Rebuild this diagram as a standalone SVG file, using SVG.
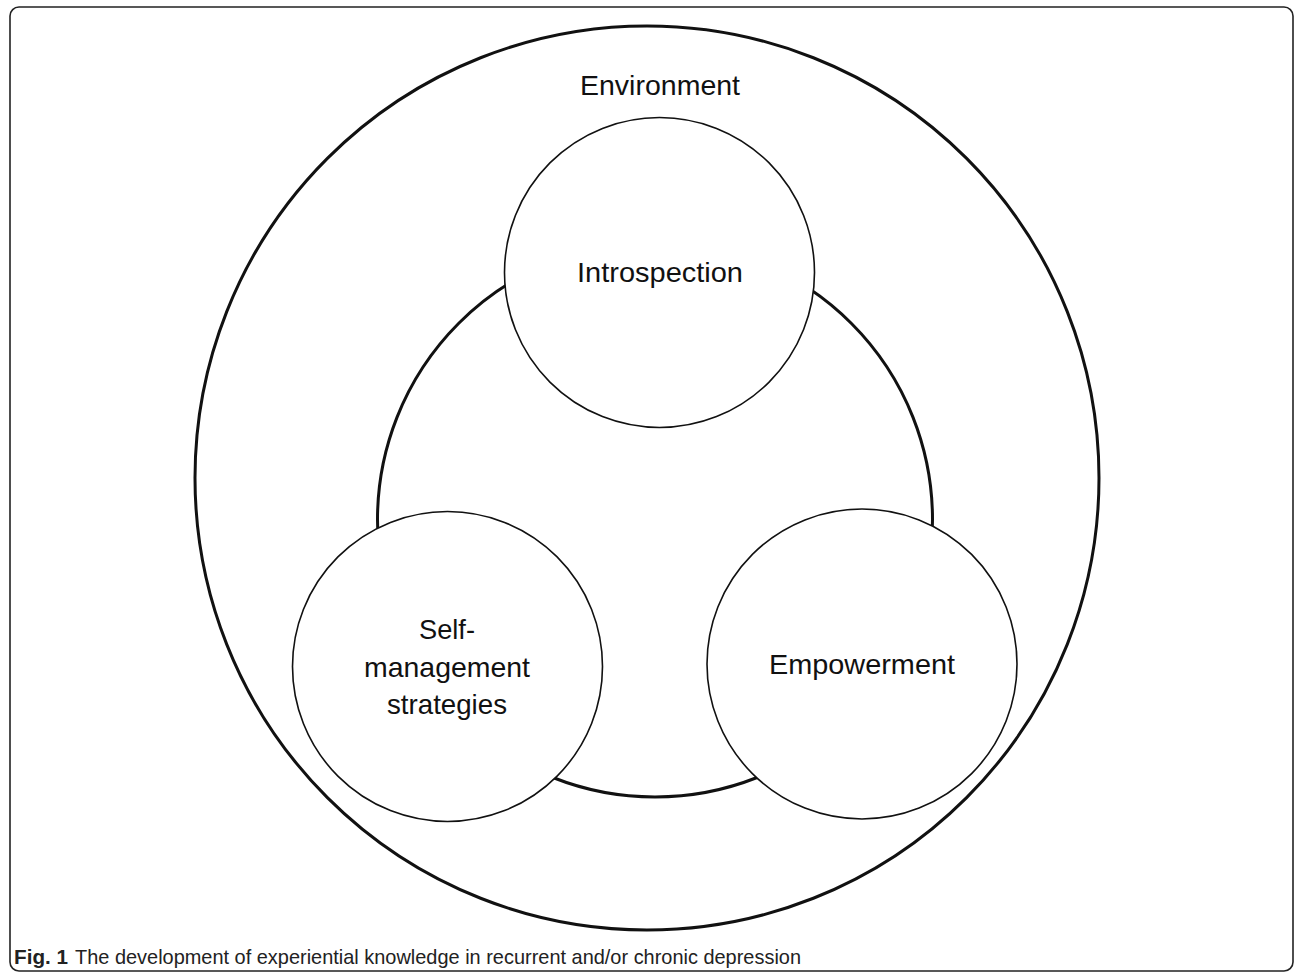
<svg xmlns="http://www.w3.org/2000/svg" width="1295" height="975" viewBox="0 0 1295 975">
<style>
.frame{fill:none;stroke:#222;stroke-width:1.6}
.big{fill:none;stroke:#111;stroke-width:3}
.node{fill:#fff;stroke:#111;stroke-width:1.6}
.lbl{font-family:"Liberation Sans",Arial,sans-serif;font-size:28px;fill:#111;text-anchor:middle}
.cap{font-family:"Liberation Sans",Arial,sans-serif;font-size:21px;fill:#222}
</style>
<rect class="frame" x="10" y="7" width="1283" height="964" rx="9"/>
<g id="environment">
<circle class="big" cx="647" cy="478" r="452"/>
<text class="lbl" x="660" y="95" textLength="160" lengthAdjust="spacingAndGlyphs">Environment</text>
</g>
<g id="core">
<circle class="big" cx="655" cy="519.5" r="277.5"/>
</g>
<g id="connectors"></g>
<g id="introspection">
<circle class="node" cx="659.5" cy="272.5" r="155"/>
<text class="lbl" x="660" y="282" textLength="166" lengthAdjust="spacingAndGlyphs">Introspection</text>
</g>
<g id="self-management">
<circle class="node" cx="447.5" cy="666.5" r="155"/>
<text class="lbl" x="447" y="639" textLength="56" lengthAdjust="spacingAndGlyphs">Self-</text>
<text class="lbl" x="447" y="677" textLength="166" lengthAdjust="spacingAndGlyphs">management</text>
<text class="lbl" x="447" y="714" textLength="120" lengthAdjust="spacingAndGlyphs">strategies</text>
</g>
<g id="empowerment">
<circle class="node" cx="862" cy="664" r="155"/>
<text class="lbl" x="862" y="674" textLength="186" lengthAdjust="spacingAndGlyphs">Empowerment</text>
</g>
<g id="caption">
<text class="cap" x="14" y="964" font-weight="bold" textLength="54" lengthAdjust="spacingAndGlyphs">Fig. 1</text>
<text class="cap" x="75" y="964" textLength="726" lengthAdjust="spacingAndGlyphs">The development of experiential knowledge in recurrent and/or chronic depression</text>
</g>
</svg>
